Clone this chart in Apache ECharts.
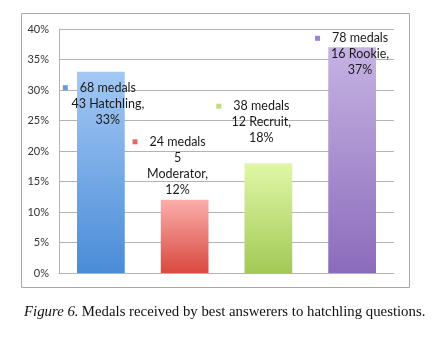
<!DOCTYPE html>
<html><head><meta charset="utf-8">
<script src="https://cdn.jsdelivr.net/npm/echarts@6/dist/echarts.min.js"></script>
<style>html,body{margin:0;padding:0;background:#fff;}#c{width:438px;height:337px;}</style>
</head><body><div id="c"></div>
<script>
var categories = ['Hatchling', 'Moderator', 'Recruit', 'Rookie'];
var medals = [68, 24, 38, 78];
var counts = [43, 5, 12, 16];
var percents = [33, 12, 18, 37];
var yTicks = [0, 5, 10, 15, 20, 25, 30, 35, 40];

// styling
var topColors = ['#a3c8f4', '#fbaeab', '#e0f7a6', '#c6b3e3'];
var botColors = ['#4a8cd8', '#d9493f', '#a2c955', '#8b6bbc'];
var keyColors = ['#5d9ee0', '#e46a63', '#b8e07c', '#9c84c9'];
var labelOffsets = [[7, 56], [-7, -2], [-7, -17], [8, 31]];
var breakAfterCount = [false, true, false, false];

var chart = echarts.init(document.getElementById('c'), null, {renderer: 'canvas'});
var txt = {fontFamily: 'Lato', fontSize: 12.5, color: '#1a1a1a', lineHeight: 16};
var data = percents.map(function (p, i) {
  var second = breakAfterCount[i]
    ? '{t|' + counts[i] + '}\n{t|' + categories[i] + ',}'
    : '{t|' + counts[i] + ' ' + categories[i] + ',}';
  return {
    value: p,
    itemStyle: {
      color: new echarts.graphic.LinearGradient(0, 0, 0, 1, [
        {offset: 0, color: topColors[i]}, {offset: 1, color: botColors[i]}
      ])
    },
    label: {
      show: true,
      position: 'top',
      distance: 0,
      offset: labelOffsets[i],
      align: 'center',
      formatter: '{m|}{g|}{t|' + medals[i] + ' medals}{s|}\n' + second + '\n{t|' + p + '%}',
      rich: {
        m: {width: 5, height: 5, backgroundColor: keyColors[i], verticalAlign: 'middle'},
        g: {width: 12, height: 5},
        s: {width: 17, height: 5},
        t: txt
      }
    }
  };
});

chart.setOption({
  animation: false,
  grid: {left: 59, right: 44, top: 29, bottom: 64, containLabel: false},
  xAxis: {
    type: 'category', data: categories,
    axisLine: {show: true, lineStyle: {color: '#b3b3b3', width: 1}},
    axisTick: {show: false}, axisLabel: {show: false}
  },
  yAxis: {
    type: 'value', min: yTicks[0], max: yTicks[yTicks.length - 1], interval: 5,
    axisLine: {show: true, lineStyle: {color: '#b3b3b3', width: 1}},
    axisTick: {show: false},
    splitLine: {show: true, lineStyle: {color: '#b3b3b3', width: 1}},
    axisLabel: {formatter: '{value}%', fontFamily: 'Lato', fontSize: 11, color: '#333', margin: 10}
  },
  series: [{
    type: 'bar', data: data, barWidth: '57%'
  }],
  graphic: [
    {type: 'rect', shape: {x: 21.5, y: 13.5, width: 388, height: 274}, style: {fill: 'none', stroke: '#a8a8a8', lineWidth: 1}, silent: true},
    {type: 'text', left: 24, top: 305, style: {
      text: '{i|Figure 6.} {n|Medals received by best answerers to hatchling questions.}',
      rich: {
        i: {fontFamily: 'Liberation Serif', fontStyle: 'italic', fontSize: 14.8, fill: '#111'},
        n: {fontFamily: 'Liberation Serif', fontSize: 14.8, fill: '#111'}
      }
    }}
  ]
});
</script></body></html>
